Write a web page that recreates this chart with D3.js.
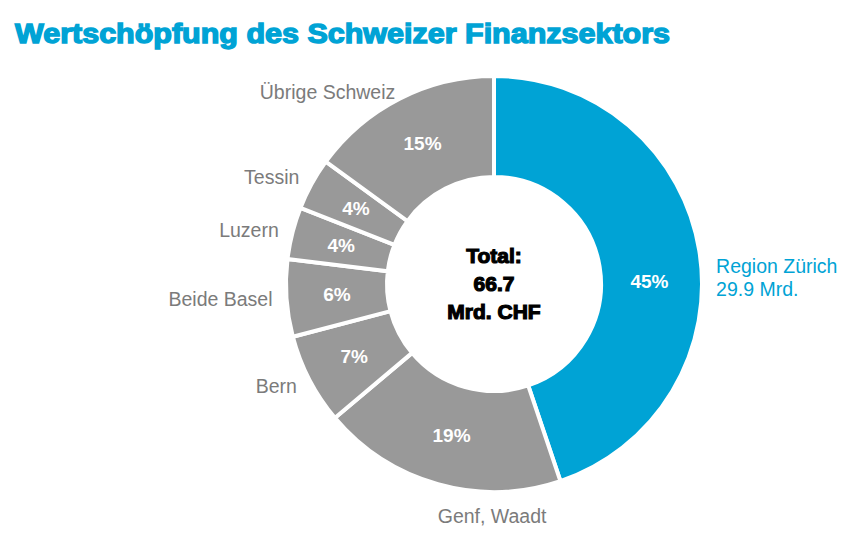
<!DOCTYPE html>
<html>
<head>
<meta charset="utf-8">
<script src="https://cdn.jsdelivr.net/npm/d3@7"></script>
<style>
  html, body { margin: 0; padding: 0; background: #fff; }
  svg { display: block; font-family: "Liberation Sans", Arial, Helvetica, sans-serif; }
</style>
</head>
<body>
<div id="chart"></div>
<script>
/* Wertschöpfung des Schweizer Finanzsektors — donut with outside labels. */
const regions = ["Region Zürich", "Genf, Waadt", "Bern", "Beide Basel", "Luzern", "Tessin", "Übrige Schweiz"];
const values = [29.9, 12.7, 4.7, 4.0, 2.7, 2.7, 10.0];   // Mrd. CHF
const shares = ["45%", "19%", "7%", "6%", "4%", "4%", "15%"];
const total = "66.7";

const W = 857, H = 538;
const cx = 494, cy = 284, rOuter = 208, rInner = 107;
const BLUE = "#00a3d5", GREY = "#999999", LABEL = "#7b7b7b";

// hand nudges for label placement (Excel "best fit" look)
const labelNudge = { "Region Zürich": [3, 30], "Genf, Waadt": [58, 18], "Übrige Schweiz": [2, 6] };
const pctNudge = { "Region Zürich": [0, 23] };

const rows = regions.map((r, i) => ({ region: r, value: values[i], share: shares[i] }));

const svg = d3.select("#chart").append("svg").attr("width", W).attr("height", H);

svg.append("text")
  .attr("x", 15).attr("y", 43)
  .attr("fill", BLUE).attr("stroke", BLUE).attr("stroke-width", 1.4)
  .attr("font-size", 27).attr("font-weight", 700)
  .attr("textLength", 655).attr("lengthAdjust", "spacingAndGlyphs")
  .text("Wertschöpfung des Schweizer Finanzsektors");

const pie = d3.pie().value(d => d.value).sort(null);
const arcs = pie(rows);
const arc = d3.arc().innerRadius(rInner).outerRadius(rOuter);
const labelArc = d3.arc().innerRadius(222).outerRadius(222);

const g = svg.append("g").attr("transform", `translate(${cx},${cy})`);

g.selectAll("path").data(arcs).join("path")
  .attr("d", arc)
  .attr("fill", (d, i) => i === 0 ? BLUE : GREY)
  .attr("stroke", "#fff").attr("stroke-width", 4).attr("stroke-linejoin", "miter");

g.selectAll("text.pct").data(arcs).join("text")
  .attr("class", "pct")
  .attr("transform", d => {
    const [x, y] = arc.centroid(d), n = pctNudge[d.data.region] || [0, 0];
    return `translate(${x + n[0]},${y + n[1]})`;
  })
  .attr("text-anchor", "middle").attr("dominant-baseline", "central")
  .attr("fill", "#fff").attr("font-size", 19).attr("font-weight", 700)
  .text(d => d.data.share);

g.selectAll("g.lbl").data(arcs).join("g")
  .attr("class", "lbl")
  .each(function (d) {
    const [x, y] = labelArc.centroid(d), n = labelNudge[d.data.region] || [0, 0];
    const a = (d.startAngle + d.endAngle) / 2, s = Math.sin(a);
    const anchor = Math.abs(s) < 0.3 ? "middle" : (s > 0 ? "start" : "end");
    const zh = d.index === 0;
    const lines = zh ? [d.data.region, d3.format(".1f")(d.data.value) + " Mrd."] : [d.data.region];
    const t = d3.select(this).append("text")
      .attr("text-anchor", anchor)
      .attr("fill", zh ? BLUE : LABEL)
      .attr("font-size", 19.5);
    const off = -(lines.length - 1) * 11.5;
    lines.forEach((l, j) => t.append("tspan")
      .attr("x", x + n[0]).attr("y", y + n[1] + off + j * 23).attr("dy", "0.35em").text(l));
  });

const center = g.append("text")
  .attr("text-anchor", "middle").attr("fill", "#000")
  .attr("stroke", "#000").attr("stroke-width", 1.2)
  .attr("font-size", 21).attr("font-weight", 700);
["Total:", total, "Mrd. CHF"].forEach((l, j) =>
  center.append("tspan").attr("x", 0).attr("y", (j - 1) * 28).attr("dy", "0.35em").text(l));
</script>
</body>
</html>
